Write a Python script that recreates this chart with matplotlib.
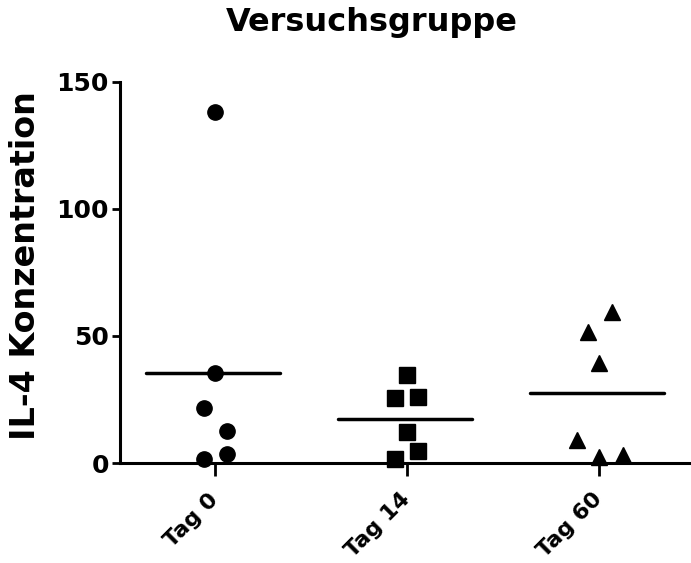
import numpy as np
import matplotlib.pyplot as plt

plt.rcParams['font.family'] = ['DejaVu Sans']
plt.rcParams['font.weight'] = 'bold'

# Werte
gruppen = ['Tag 0', 'Tag 14', 'Tag 60']
tag0 = [138.1, 35.4, 21.5, 12.7, 3.5, 1.6]
tag14 = [34.8, 25.5, 25.9, 12.2, 4.6, 1.6]
tag60 = [59.3, 51.7, 39.5, 9.1, 2.5, 3.1]
y_ticks = [0, 50, 100, 150]

# seitlicher Versatz der Punkte (wie im Scatter-Plot von Prism)
versatz = [
    [0, 0, -0.06, 0.06, 0.06, -0.06],
    [0, -0.06, 0.06, 0, 0.06, -0.06],
    [0.066, -0.056, 0, -0.115, 0, 0.127],
]
marker = ['o', 's', '^']
groesse = [11, 11, 12]

fig = plt.figure(figsize=(6.91, 5.63), dpi=100)
ax = fig.add_axes([0.1737, 0.1776, 0.8263, 0.6773])

for i, werte in enumerate([tag0, tag14, tag60]):
    x = i + np.array(versatz[i])
    ax.plot(x, werte, linestyle='none', marker=marker[i], color='black',
            markersize=groesse[i], clip_on=False, zorder=3)
    m = np.mean(werte)
    ax.plot([i - 0.36, i + 0.34], [m, m], color='black', linewidth=2.5,
            solid_capstyle='round', zorder=2)

ax.set_xlim(-0.495, 2.48)
ax.set_ylim(0, 150)
ax.set_yticks(y_ticks)
ax.set_xticks(range(len(gruppen)))
ax.set_xticklabels(gruppen, rotation=45, ha='right', va='center',
                   rotation_mode='anchor')

for s in ['top', 'right']:
    ax.spines[s].set_visible(False)
for s in ['left', 'bottom']:
    ax.spines[s].set_linewidth(2.2)

ax.tick_params(axis='y', length=6, width=2, labelsize=18, pad=2)
ax.tick_params(axis='x', length=9, width=2, labelsize=16, pad=15)
ax.set_ylabel('IL-4 Konzentration', fontsize=24, fontweight='bold')
ax.yaxis.label.set_va('center')
ax.yaxis.set_label_coords((25 - 120) / 571, (463 - 266) / 381.3)

fig.text(372 / 691, 1 - 22 / 563, 'Versuchsgruppe', fontsize=23,
         fontweight='bold', ha='center', va='center')

fig.savefig('out.png', dpi=100)
